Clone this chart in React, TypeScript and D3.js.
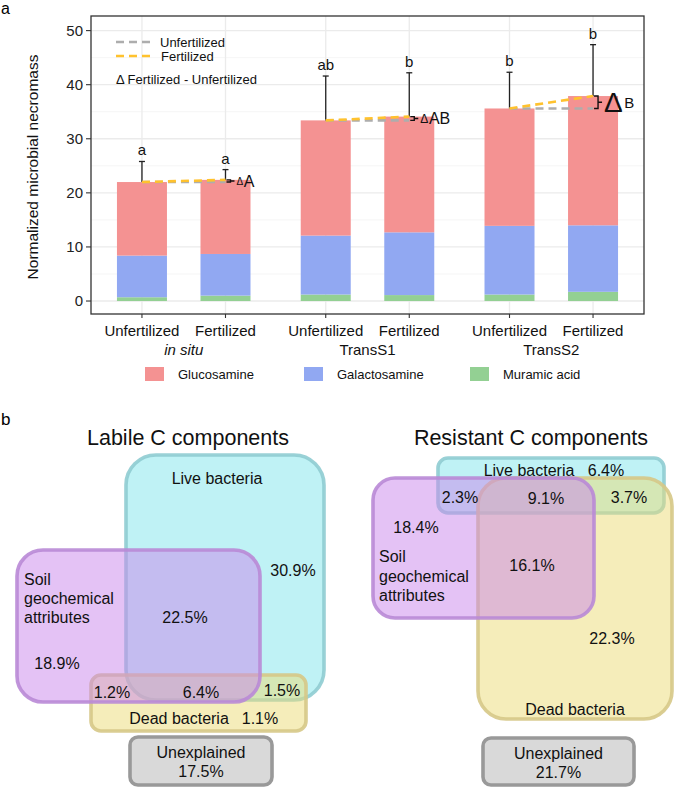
import React from "react";
import * as d3 from "d3";

// ---------- Panel a data ----------
const treatments = ["Unfertilized", "Fertilized", "Unfertilized", "Fertilized", "Unfertilized", "Fertilized"];
const sites = ["in situ", "TransS1", "TransS2"];
const muramic = [0.7, 1.0, 1.2, 1.1, 1.2, 1.7];
const galactosamine = [7.7, 7.7, 10.9, 11.6, 12.7, 12.3];
const glucosamine = [13.6, 13.7, 21.3, 21.4, 21.7, 23.9];
const errorUpper = [3.8, 1.9, 8.2, 8.1, 6.7, 9.5];
const letters = ["a", "a", "ab", "b", "b", "b"];
const deltaLetters = ["A", "AB", "B"];
const yTicks = [0, 10, 20, 30, 40, 50];
const componentNames = ["Glucosamine", "Galactosamine", "Muramic acid"];

// ---------- Panel b data ----------
const labileValues = ["30.9%", "22.5%", "18.9%", "1.2%", "6.4%", "1.5%", "1.1%", "17.5%"];
const resistantValues = ["6.4%", "2.3%", "9.1%", "3.7%", "18.4%", "16.1%", "22.3%", "21.7%"];

const FONT = "'Liberation Sans', Arial, Helvetica, sans-serif";
const colors = { glu: "#F49292", gal: "#91A8F2", mur: "#93D093" };
const GRAY = "#ADADAD";
const GOLD = "#FFC22E";

function BarPanel() {
  const left = 91, right = 644, top = 16, bottom = 314;
  const pos = treatments.map((_, i) => Math.floor(i / 2) * 2.2 + (i % 2) + 1);
  const x = d3.scaleLinear().domain([0.39, 7.01]).range([left, right]);
  const y = d3.scaleLinear().domain([-2.4, 52.7]).range([bottom, top]);
  const bw = 50;
  const totals = treatments.map((_, i) => muramic[i] + galactosamine[i] + glucosamine[i]);
  const minor = d3.range(5, 55, 10);

  const dashed = "8,5";
  return (
    <g>
      <text x={1} y={14} fontSize={16} fontFamily={FONT}>a</text>
      <rect x={left} y={top} width={right - left} height={bottom - top} fill="white" />
      {minor.map((t) => (
        <line key={"mn" + t} x1={left} x2={right} y1={y(t)} y2={y(t)} stroke="#F0F0F0" strokeWidth={0.7} />
      ))}
      {yTicks.map((t) => (
        <line key={"mj" + t} x1={left} x2={right} y1={y(t)} y2={y(t)} stroke="#EBEBEB" strokeWidth={1.3} />
      ))}
      {pos.map((p, i) => (
        <line key={"vx" + i} x1={x(p)} x2={x(p)} y1={top} y2={bottom} stroke="#EBEBEB" strokeWidth={1.3} />
      ))}
      {/* bars */}
      {pos.map((p, i) => {
        const m = muramic[i], g = m + galactosamine[i], t = totals[i];
        return (
          <g key={"bar" + i}>
            <rect x={x(p) - bw / 2} y={y(m)} width={bw} height={y(0) - y(m)} fill={colors.mur} />
            <rect x={x(p) - bw / 2} y={y(g)} width={bw} height={y(m) - y(g)} fill={colors.gal} />
            <rect x={x(p) - bw / 2} y={y(t)} width={bw} height={y(g) - y(t)} fill={colors.glu} />
          </g>
        );
      })}
      {/* error bars */}
      {pos.map((p, i) => {
        const t = totals[i], e = t + errorUpper[i];
        return (
          <g key={"err" + i} stroke="#222" strokeWidth={1.3}>
            <line x1={x(p)} x2={x(p)} y1={y(t)} y2={y(e)} />
            <line x1={x(p) - 3} x2={x(p) + 3} y1={y(e)} y2={y(e)} />
          </g>
        );
      })}
      {pos.map((p, i) => (
        <text key={"let" + i} x={x(p)} y={y(totals[i] + errorUpper[i]) - 6} textAnchor="middle" fontSize={15} fontFamily={FONT} fill="#111">
          {letters[i]}
        </text>
      ))}
      {/* dashed comparison lines and deltas */}
      {sites.map((s, k) => {
        const pu = pos[2 * k], pf = pos[2 * k + 1];
        const tu = totals[2 * k], tf = totals[2 * k + 1];
        const diff = tf - tu;
        const bx = x(pf) + 1;
        const yu = y(tu), yf = y(tf);
        const midY = (yu + yf) / 2;
        const deltaSize = diff > 1.5 ? 28 : diff > 0.6 ? 12 : 10;
        const letterSize = diff > 1.5 ? 15 : 16;
        return (
          <g key={"cmp" + k}>
            <line x1={x(pu)} x2={x(pf)} y1={yu} y2={yu} stroke={GRAY} strokeWidth={2.6} strokeDasharray={dashed} />
            <line x1={x(pu)} x2={x(pf)} y1={yu} y2={yf} stroke={GOLD} strokeWidth={2.6} strokeDasharray={dashed} />
            <path
              d={`M${bx},${yf} H${bx + 4} V${yu} H${bx} M${bx + 4},${midY} H${bx + 8}`}
              fill="none"
              stroke="#111"
              strokeWidth={1.4}
            />
            <text x={bx + 10} y={midY + deltaSize * 0.36} fontSize={deltaSize} fontFamily={FONT} fill="#111">Δ</text>
            <text x={bx + 10 + deltaSize * 0.72} y={midY + letterSize * 0.36} fontSize={letterSize} fontFamily={FONT} fill="#111">
              {deltaLetters[k]}
            </text>
          </g>
        );
      })}
      {/* legend inside */}
      <line x1={116} x2={153} y1={42} y2={42} stroke={GRAY} strokeWidth={2.4} strokeDasharray="8,5" />
      <line x1={116} x2={153} y1={56} y2={56} stroke={GOLD} strokeWidth={2.4} strokeDasharray="8,5" />
      <text x={160} y={46.5} fontSize={13} fontFamily={FONT} fill="#111">Unfertilized</text>
      <text x={161} y={61} fontSize={13} fontFamily={FONT} fill="#111">Fertilized</text>
      <text x={116} y={83.5} fontSize={13} fontFamily={FONT} fill="#111">Δ Fertilized - Unfertilized</text>
      {/* border */}
      <rect x={left} y={top} width={right - left} height={bottom - top} fill="none" stroke="#333" strokeWidth={1.3} />
      {/* y axis */}
      {yTicks.map((t) => (
        <g key={"yt" + t}>
          <line x1={left - 5} x2={left} y1={y(t)} y2={y(t)} stroke="#333" strokeWidth={1.1} />
          <text x={left - 8} y={y(t) + 5} textAnchor="end" fontSize={15} fontFamily={FONT} fill="#222">{t}</text>
        </g>
      ))}
      <text transform={`translate(${38},${(top + bottom) / 2 + 2}) rotate(-90)`} textAnchor="middle" fontSize={15.5} fontFamily={FONT} fill="#111">
        Normalized microbial necromass
      </text>
      {/* x axis */}
      {pos.map((p, i) => (
        <g key={"xt" + i}>
          <line x1={x(p)} x2={x(p)} y1={bottom} y2={bottom + 4} stroke="#333" strokeWidth={1.1} />
          <text x={x(p)} y={336} textAnchor="middle" fontSize={15} fontFamily={FONT} fill="#111">{treatments[i]}</text>
        </g>
      ))}
      {sites.map((s, k) => (
        <text key={"site" + k} x={(x(pos[2 * k]) + x(pos[2 * k + 1])) / 2} y={355} textAnchor="middle" fontSize={15} fontFamily={FONT} fill="#111" fontStyle={k === 0 ? "italic" : "normal"}>
          {s}
        </text>
      ))}
      {/* bottom legend */}
      {componentNames.map((n, i) => {
        const sx = [145, 304, 470][i];
        const c = [colors.glu, colors.gal, colors.mur][i];
        return (
          <g key={"lg" + i}>
            <rect x={sx} y={367} width={19} height={14} fill={c} />
            <text x={sx + 33} y={379} fontSize={13} fontFamily={FONT} fill="#111">{n}</text>
          </g>
        );
      })}
    </g>
  );
}

type Box = { x: number; y: number; w: number; h: number; r: number; fill: string; stroke: string };

const CYAN_F = "#7FE6EC", CYAN_S = "#8FCCD1";
const PURP_F = "#C985EB", PURP_S = "#B98AD6";
const YELL_F = "#EBDB75", YELL_S = "#D6C887";

function VennBox({ b }: { b: Box }) {
  return (
    <rect x={b.x} y={b.y} width={b.w} height={b.h} rx={b.r} ry={b.r} fill={b.fill} fillOpacity={0.5} stroke={b.stroke} strokeWidth={3.6} strokeOpacity={0.9} />
  );
}

function Unexplained({ x, y, w, h, value }: { x: number; y: number; w: number; h: number; value: string }) {
  return (
    <g>
      <rect x={x} y={y} width={w} height={h} rx={8} ry={8} fill="#D9D9D9" stroke="#999" strokeWidth={3.6} />
      <text x={x + w / 2} y={y + 21} textAnchor="middle" fontSize={16} fontFamily={FONT} fill="#111">Unexplained</text>
      <text x={x + w / 2} y={y + 40} textAnchor="middle" fontSize={16} fontFamily={FONT} fill="#111">{value}</text>
    </g>
  );
}

function T({ x, y, children, anchor = "middle" }: { x: number; y: number; children: any; anchor?: string }) {
  return (
    <text x={x} y={y} textAnchor={anchor as any} fontSize={16} fontFamily={FONT} fill="#111">{children}</text>
  );
}

function VennPanel() {
  const labile: Box[] = [
    { x: 126, y: 455, w: 198, h: 245, r: 30, fill: CYAN_F, stroke: CYAN_S },
    { x: 91, y: 675, w: 215, h: 56, r: 10, fill: YELL_F, stroke: YELL_S },
    { x: 17, y: 550, w: 243, h: 152, r: 26, fill: PURP_F, stroke: PURP_S },
  ];
  const resistant: Box[] = [
    { x: 438, y: 458, w: 226, h: 55, r: 10, fill: CYAN_F, stroke: CYAN_S },
    { x: 478, y: 478, w: 194, h: 241, r: 28, fill: YELL_F, stroke: YELL_S },
    { x: 373, y: 478, w: 221, h: 140, r: 22, fill: PURP_F, stroke: PURP_S },
  ];
  const L = labileValues, R = resistantValues;
  return (
    <g>
      <text x={1} y={425} fontSize={17} fontFamily={FONT}>b</text>
      <text x={188} y={445} textAnchor="middle" fontSize={21.5} fontFamily={FONT} fill="#111">Labile C components</text>
      <text x={531} y={445} textAnchor="middle" fontSize={21.5} fontFamily={FONT} fill="#111">Resistant C components</text>
      {labile.map((b, i) => <VennBox key={"lb" + i} b={b} />)}
      {resistant.map((b, i) => <VennBox key={"rb" + i} b={b} />)}
      {/* labile labels */}
      <T x={217} y={484}>Live bacteria</T>
      <T x={293} y={576}>{L[0]}</T>
      <T x={24} y={585} anchor="start">Soil</T>
      <T x={24} y={604} anchor="start">geochemical</T>
      <T x={24} y={623} anchor="start">attributes</T>
      <T x={185} y={623}>{L[1]}</T>
      <T x={57} y={669}>{L[2]}</T>
      <T x={112} y={698}>{L[3]}</T>
      <T x={201} y={698}>{L[4]}</T>
      <T x={282} y={696}>{L[5]}</T>
      <T x={179} y={724}>Dead bacteria</T>
      <T x={260} y={724}>{L[6]}</T>
      <Unexplained x={130} y={737} w={142} h={48} value={L[7]} />
      {/* resistant labels */}
      <T x={529} y={476}>Live bacteria</T>
      <T x={606} y={476}>{R[0]}</T>
      <T x={460} y={503}>{R[1]}</T>
      <T x={546} y={504}>{R[2]}</T>
      <T x={629} y={503}>{R[3]}</T>
      <T x={416} y={533}>{R[4]}</T>
      <T x={379} y={562} anchor="start">Soil</T>
      <T x={379} y={582} anchor="start">geochemical</T>
      <T x={379} y={601} anchor="start">attributes</T>
      <T x={532} y={571}>{R[5]}</T>
      <T x={612} y={644}>{R[6]}</T>
      <T x={575} y={715}>Dead bacteria</T>
      <Unexplained x={483} y={738} w={151} h={47} value={R[7]} />
    </g>
  );
}

export default function App() {
  return (
    <svg width={674} height={787} style={{ position: "absolute", left: 0, top: 0, background: "white" }} fontFamily={FONT}>
      <rect width={674} height={787} fill="white" />
      <BarPanel />
      <VennPanel />
    </svg>
  );
}
